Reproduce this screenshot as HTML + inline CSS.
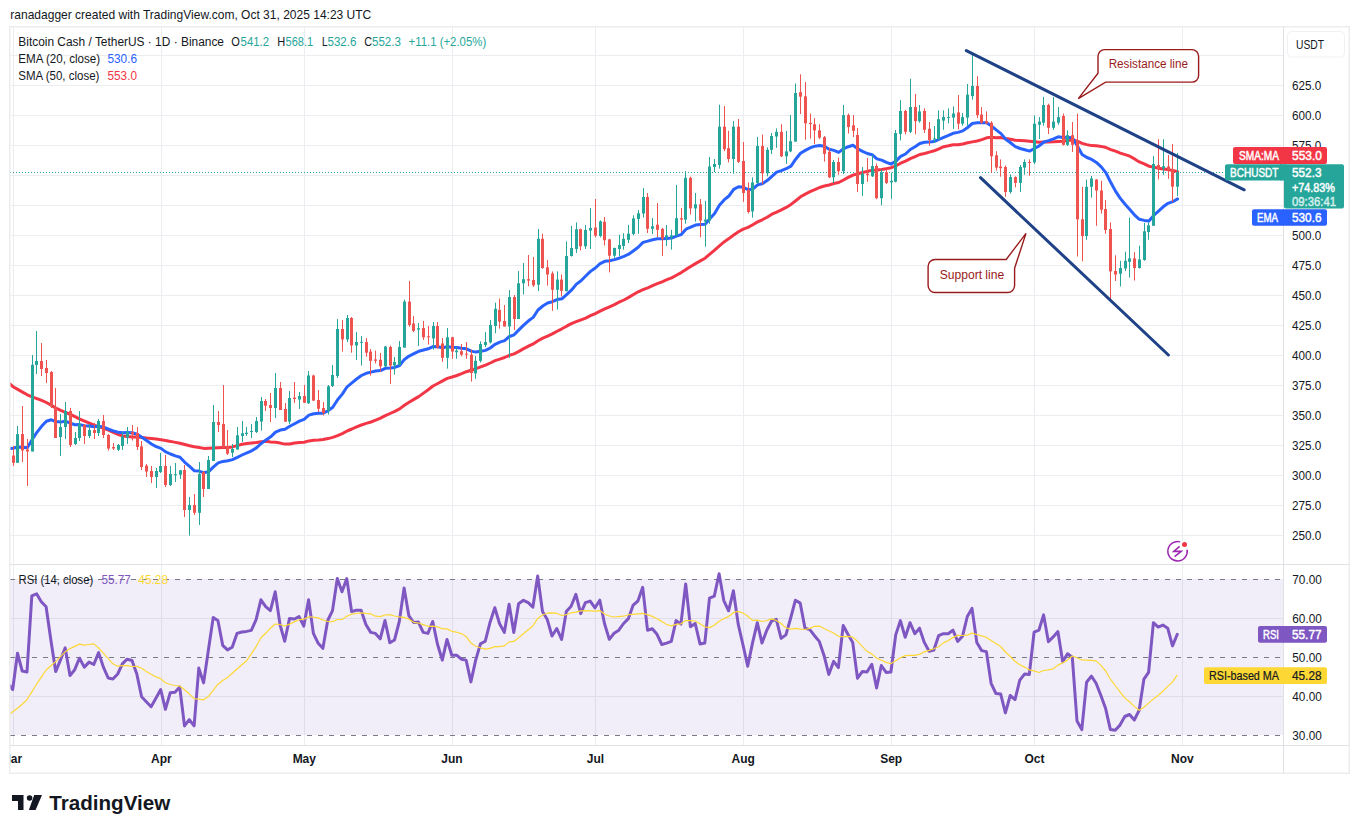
<!DOCTYPE html>
<html><head><meta charset="utf-8"><style>
html,body{margin:0;padding:0;background:#fff;width:1359px;height:833px;overflow:hidden}
svg{position:absolute;left:0;top:0}
text{font-family:"Liberation Sans",sans-serif}
</style></head><body>
<svg width="1359" height="833" viewBox="0 0 1359 833">
<line x1="10" y1="55.5" x2="1283" y2="55.5" stroke="#ebedf0" stroke-width="1"/>
<line x1="10" y1="85.5" x2="1283" y2="85.5" stroke="#ebedf0" stroke-width="1"/>
<line x1="10" y1="115.5" x2="1283" y2="115.5" stroke="#ebedf0" stroke-width="1"/>
<line x1="10" y1="145.5" x2="1283" y2="145.5" stroke="#ebedf0" stroke-width="1"/>
<line x1="10" y1="175.5" x2="1283" y2="175.5" stroke="#ebedf0" stroke-width="1"/>
<line x1="10" y1="205.5" x2="1283" y2="205.5" stroke="#ebedf0" stroke-width="1"/>
<line x1="10" y1="235.5" x2="1283" y2="235.5" stroke="#ebedf0" stroke-width="1"/>
<line x1="10" y1="265.5" x2="1283" y2="265.5" stroke="#ebedf0" stroke-width="1"/>
<line x1="10" y1="295.5" x2="1283" y2="295.5" stroke="#ebedf0" stroke-width="1"/>
<line x1="10" y1="325.5" x2="1283" y2="325.5" stroke="#ebedf0" stroke-width="1"/>
<line x1="10" y1="355.5" x2="1283" y2="355.5" stroke="#ebedf0" stroke-width="1"/>
<line x1="10" y1="385.5" x2="1283" y2="385.5" stroke="#ebedf0" stroke-width="1"/>
<line x1="10" y1="415.5" x2="1283" y2="415.5" stroke="#ebedf0" stroke-width="1"/>
<line x1="10" y1="445.5" x2="1283" y2="445.5" stroke="#ebedf0" stroke-width="1"/>
<line x1="10" y1="475.5" x2="1283" y2="475.5" stroke="#ebedf0" stroke-width="1"/>
<line x1="10" y1="505.5" x2="1283" y2="505.5" stroke="#ebedf0" stroke-width="1"/>
<line x1="10" y1="535.5" x2="1283" y2="535.5" stroke="#ebedf0" stroke-width="1"/>
<line x1="13.5" y1="27" x2="13.5" y2="745" stroke="#ebedf0" stroke-width="1"/>
<line x1="161.5" y1="27" x2="161.5" y2="745" stroke="#ebedf0" stroke-width="1"/>
<line x1="304.5" y1="27" x2="304.5" y2="745" stroke="#ebedf0" stroke-width="1"/>
<line x1="452.5" y1="27" x2="452.5" y2="745" stroke="#ebedf0" stroke-width="1"/>
<line x1="595.5" y1="27" x2="595.5" y2="745" stroke="#ebedf0" stroke-width="1"/>
<line x1="743.5" y1="27" x2="743.5" y2="745" stroke="#ebedf0" stroke-width="1"/>
<line x1="891.5" y1="27" x2="891.5" y2="745" stroke="#ebedf0" stroke-width="1"/>
<line x1="1034.5" y1="27" x2="1034.5" y2="745" stroke="#ebedf0" stroke-width="1"/>
<line x1="1182.5" y1="27" x2="1182.5" y2="745" stroke="#ebedf0" stroke-width="1"/>
<line x1="10" y1="618.5" x2="1283" y2="618.5" stroke="#ebedf0" stroke-width="1"/>
<line x1="10" y1="696.5" x2="1283" y2="696.5" stroke="#ebedf0" stroke-width="1"/>
<rect x="10" y="579" width="1273" height="156" fill="#7e57c2" fill-opacity="0.1"/>
<line x1="10" y1="579.5" x2="1283" y2="579.5" stroke="#787b86" stroke-width="1" stroke-dasharray="5,6"/>
<line x1="10" y1="657.5" x2="1283" y2="657.5" stroke="#787b86" stroke-width="1" stroke-dasharray="5,6"/>
<line x1="10" y1="735.5" x2="1283" y2="735.5" stroke="#787b86" stroke-width="1" stroke-dasharray="5,6"/>
<line x1="10" y1="172.5" x2="1283" y2="172.5" stroke="#26a69a" stroke-width="1" stroke-dasharray="1,2"/>
<clipPath id="mclip"><rect x="10" y="27" width="1273" height="537"/></clipPath>
<clipPath id="rclip"><rect x="10" y="565" width="1273" height="180"/></clipPath>
<g clip-path="url(#mclip)">
<polyline points="8.2,382.5 13.0,386.7 17.8,389.4 22.5,392.1 27.3,394.8 32.1,396.8 36.9,398.6 41.6,400.4 46.4,402.5 51.2,405.3 56.0,408.1 60.7,410.3 65.5,412.3 70.3,414.3 75.0,416.7 79.8,419.1 84.6,421.2 89.4,423.2 94.1,425.1 98.9,426.7 103.7,428.3 108.5,430.2 113.2,432.4 118.0,434.5 122.8,435.9 127.5,436.6 132.3,436.9 137.1,437.1 141.9,437.5 146.6,438.0 151.4,438.4 156.2,439.1 161.0,439.8 165.7,440.6 170.5,441.4 175.3,442.4 180.0,443.3 184.8,444.5 189.6,445.7 194.4,446.7 199.1,447.5 203.9,448.4 208.7,448.2 213.5,447.9 218.2,447.7 223.0,447.4 227.8,447.5 232.5,446.9 237.3,445.6 242.1,444.2 246.9,443.5 251.6,442.9 256.4,442.4 261.2,441.7 266.0,441.2 270.7,441.9 275.5,442.3 280.3,443.1 285.0,444.1 289.8,443.9 294.6,443.1 299.4,442.5 304.1,442.3 308.9,440.9 313.7,440.2 318.5,439.9 323.2,439.4 328.0,438.6 332.8,437.4 337.6,435.6 342.3,433.6 347.1,431.0 351.9,429.0 356.6,426.9 361.4,425.0 366.2,423.4 371.0,422.0 375.7,420.2 380.5,418.2 385.3,415.7 390.1,413.5 394.8,411.3 399.6,408.9 404.4,405.3 409.1,402.3 413.9,399.4 418.7,396.6 423.5,393.1 428.2,389.8 433.0,386.0 437.8,383.5 442.6,380.9 447.3,378.4 452.1,377.0 456.9,375.5 461.6,373.7 466.4,371.7 471.2,370.2 476.0,368.7 480.7,366.9 485.5,365.1 490.3,363.0 495.1,360.7 499.8,359.1 504.6,357.5 509.4,355.3 514.1,353.9 518.9,351.4 523.7,348.6 528.5,346.2 533.2,343.9 538.0,340.8 542.8,338.1 547.6,336.1 552.3,333.9 557.1,331.3 561.9,328.8 566.6,326.2 571.4,323.7 576.2,321.7 581.0,319.8 585.7,318.1 590.5,315.7 595.3,313.6 600.1,311.2 604.8,308.9 609.6,306.8 614.4,304.6 619.1,302.2 623.9,300.0 628.7,297.4 633.5,294.5 638.2,291.8 643.0,289.7 647.8,287.8 652.6,285.7 657.3,283.7 662.1,281.8 666.9,279.7 671.6,277.9 676.4,275.3 681.2,272.6 686.0,269.4 690.7,266.5 695.5,263.6 700.3,260.9 705.1,258.2 709.8,254.1 714.6,250.1 719.4,245.8 724.1,241.9 728.9,238.6 733.7,235.0 738.5,231.8 743.2,229.1 748.0,227.4 752.8,224.7 757.6,221.9 762.3,219.8 767.1,217.2 771.9,214.2 776.6,212.1 781.4,209.8 786.2,207.4 791.0,204.4 795.7,200.7 800.5,196.8 805.3,194.1 810.1,191.7 814.8,189.7 819.6,187.5 824.4,186.0 829.1,185.0 833.9,183.5 838.7,182.5 843.5,180.0 848.2,177.4 853.0,175.1 857.8,173.8 862.6,172.5 867.3,171.4 872.1,170.3 876.9,170.0 881.6,169.5 886.4,168.6 891.2,167.7 896.0,165.8 900.7,163.2 905.5,161.1 910.3,158.6 915.1,156.6 919.8,154.5 924.6,153.5 929.4,152.1 934.2,150.8 938.9,148.8 943.7,146.7 948.5,145.8 953.2,144.7 958.0,144.7 962.8,144.0 967.6,142.8 972.3,141.9 977.1,141.0 981.9,139.6 986.7,137.8 991.4,137.3 996.2,137.7 1001.0,137.6 1005.7,138.5 1010.5,139.3 1015.3,140.3 1020.1,140.5 1024.8,140.8 1029.6,141.2 1034.4,141.8 1039.2,142.3 1043.9,141.9 1048.7,142.0 1053.5,141.8 1058.2,141.4 1063.0,141.2 1067.8,140.4 1072.6,140.1 1077.3,141.0 1082.1,143.4 1086.9,144.6 1091.7,145.6 1096.4,145.7 1101.2,146.4 1106.0,147.5 1110.7,149.6 1115.5,151.2 1120.3,153.1 1125.1,154.6 1129.8,156.2 1134.6,158.9 1139.4,161.9 1144.2,163.8 1148.9,166.2 1153.7,167.1 1158.5,168.2 1163.2,168.9 1168.0,169.6 1172.8,170.5 1177.6,171.6" fill="none" stroke="#f23645" stroke-width="3" stroke-linejoin="round" stroke-linecap="round"/>
<polyline points="8.2,448.5 13.0,448.3 17.8,447.0 22.5,447.3 27.3,447.7 32.1,439.8 36.9,432.3 41.6,426.3 46.4,421.2 51.2,419.8 56.0,421.5 60.7,422.1 65.5,421.0 70.3,423.3 75.0,424.7 79.8,424.6 84.6,425.7 89.4,426.1 94.1,426.8 98.9,426.2 103.7,427.1 108.5,429.1 113.2,430.9 118.0,432.3 122.8,432.7 127.5,432.6 132.3,432.8 137.1,434.2 141.9,437.3 146.6,440.6 151.4,444.0 156.2,446.6 161.0,448.4 165.7,451.9 170.5,454.0 175.3,455.9 180.0,457.3 184.8,462.3 189.6,466.4 194.4,470.8 199.1,471.1 203.9,472.8 208.7,471.6 213.5,466.9 218.2,462.9 223.0,461.4 227.8,460.7 232.5,459.6 237.3,457.3 242.1,455.0 246.9,452.9 251.6,450.8 256.4,447.9 261.2,443.5 266.0,439.9 270.7,436.8 275.5,432.2 280.3,430.1 285.0,429.3 289.8,426.3 294.6,423.7 299.4,421.1 304.1,419.3 308.9,415.1 313.7,413.7 318.5,413.3 323.2,413.3 328.0,410.7 332.8,407.3 337.6,399.8 342.3,394.1 347.1,386.8 351.9,382.9 356.6,379.0 361.4,375.5 366.2,373.3 371.0,372.1 375.7,371.0 380.5,370.6 385.3,368.3 390.1,368.0 394.8,367.4 399.6,365.5 404.4,359.4 409.1,356.1 413.9,353.7 418.7,351.3 423.5,350.0 428.2,348.8 433.0,346.6 437.8,346.7 442.6,347.7 447.3,346.7 452.1,347.2 456.9,347.5 461.6,348.2 466.4,348.8 471.2,351.1 476.0,352.1 480.7,351.3 485.5,350.4 490.3,348.0 495.1,344.3 499.8,342.1 504.6,340.6 509.4,336.5 514.1,334.8 518.9,329.9 523.7,325.1 528.5,320.8 533.2,317.4 538.0,310.0 542.8,306.0 547.6,303.0 552.3,301.7 557.1,299.6 561.9,298.8 566.6,294.7 571.4,290.2 576.2,284.4 581.0,280.8 585.7,276.0 590.5,271.4 595.3,268.0 600.1,263.6 604.8,261.3 609.6,260.8 614.4,259.6 619.1,258.2 623.9,256.3 628.7,254.2 633.5,250.8 638.2,247.2 643.0,242.4 647.8,241.1 652.6,239.7 657.3,238.8 662.1,238.8 666.9,238.4 671.6,238.1 676.4,236.2 681.2,234.6 686.0,229.2 690.7,227.2 695.5,225.1 700.3,224.6 705.1,224.2 709.8,218.7 714.6,213.5 719.4,205.2 724.1,199.9 728.9,196.0 733.7,189.4 738.5,186.7 743.2,187.3 748.0,189.7 752.8,189.0 757.6,184.9 762.3,183.8 767.1,180.6 771.9,176.3 776.6,172.1 781.4,170.6 786.2,168.7 791.0,166.1 795.7,159.2 800.5,153.2 805.3,150.4 810.1,147.9 814.8,146.2 819.6,145.4 824.4,146.2 829.1,149.2 833.9,150.4 838.7,152.4 843.5,148.8 848.2,146.7 853.0,145.2 857.8,148.9 862.6,151.3 867.3,153.5 872.1,154.7 876.9,158.9 881.6,160.1 886.4,162.3 891.2,164.1 896.0,161.1 900.7,156.3 905.5,154.0 910.3,149.5 915.1,146.8 919.8,143.5 924.6,142.2 929.4,141.9 934.2,141.6 938.9,139.5 943.7,137.3 948.5,135.4 953.2,133.3 958.0,132.4 962.8,130.9 967.6,127.5 972.3,123.5 977.1,122.7 981.9,122.7 986.7,122.8 991.4,126.0 996.2,129.9 1001.0,133.6 1005.7,139.2 1010.5,142.8 1015.3,146.6 1020.1,148.5 1024.8,149.8 1029.6,151.1 1034.4,148.5 1039.2,145.9 1043.9,142.0 1048.7,140.6 1053.5,138.8 1058.2,136.8 1063.0,137.5 1067.8,137.3 1072.6,138.0 1077.3,145.8 1082.1,154.4 1086.9,157.5 1091.7,159.4 1096.4,162.4 1101.2,166.9 1106.0,172.9 1110.7,182.3 1115.5,191.1 1120.3,198.4 1125.1,204.3 1129.8,209.5 1134.6,215.1 1139.4,219.3 1144.2,220.4 1148.9,220.9 1153.7,215.5 1158.5,211.1 1163.2,206.8 1168.0,203.3 1172.8,201.7 1177.6,198.9" fill="none" stroke="#2962ff" stroke-width="3" stroke-linejoin="round" stroke-linecap="round"/>
<rect x="13" y="446.0" width="1" height="20.0" fill="#ef5350"/>
<rect x="12" y="455.6" width="3" height="7.2" fill="#ef5350"/>
<rect x="17" y="426.0" width="1" height="37.0" fill="#26a69a"/>
<rect x="16" y="434.2" width="3" height="28.6" fill="#26a69a"/>
<rect x="22" y="406.0" width="1" height="56.0" fill="#ef5350"/>
<rect x="21" y="434.0" width="3" height="16.5" fill="#ef5350"/>
<rect x="27" y="439.0" width="1" height="47.0" fill="#ef5350"/>
<rect x="26" y="449.5" width="3" height="2.0" fill="#ef5350"/>
<rect x="32" y="355.0" width="1" height="96.5" fill="#26a69a"/>
<rect x="31" y="364.8" width="3" height="86.7" fill="#26a69a"/>
<rect x="36" y="331.0" width="1" height="43.0" fill="#26a69a"/>
<rect x="35" y="361.0" width="3" height="4.0" fill="#26a69a"/>
<rect x="41" y="343.0" width="1" height="33.0" fill="#ef5350"/>
<rect x="40" y="361.0" width="3" height="8.0" fill="#ef5350"/>
<rect x="46" y="360.0" width="1" height="23.0" fill="#ef5350"/>
<rect x="45" y="368.0" width="3" height="5.0" fill="#ef5350"/>
<rect x="51" y="371.0" width="1" height="37.0" fill="#ef5350"/>
<rect x="50" y="372.0" width="3" height="34.6" fill="#ef5350"/>
<rect x="55" y="388.0" width="1" height="50.0" fill="#ef5350"/>
<rect x="54" y="407.0" width="3" height="31.0" fill="#ef5350"/>
<rect x="60" y="414.0" width="1" height="42.0" fill="#26a69a"/>
<rect x="59" y="427.0" width="3" height="10.0" fill="#26a69a"/>
<rect x="65" y="402.0" width="1" height="37.0" fill="#26a69a"/>
<rect x="64" y="411.0" width="3" height="16.0" fill="#26a69a"/>
<rect x="70" y="408.0" width="1" height="39.0" fill="#ef5350"/>
<rect x="69" y="411.0" width="3" height="34.0" fill="#ef5350"/>
<rect x="75" y="432.0" width="1" height="13.0" fill="#26a69a"/>
<rect x="74" y="438.0" width="3" height="6.0" fill="#26a69a"/>
<rect x="79" y="411.0" width="1" height="30.0" fill="#26a69a"/>
<rect x="78" y="424.0" width="3" height="14.0" fill="#26a69a"/>
<rect x="84" y="424.0" width="1" height="20.0" fill="#ef5350"/>
<rect x="83" y="425.0" width="3" height="11.0" fill="#ef5350"/>
<rect x="89" y="424.0" width="1" height="14.0" fill="#26a69a"/>
<rect x="88" y="430.0" width="3" height="6.0" fill="#26a69a"/>
<rect x="94" y="423.0" width="1" height="16.0" fill="#ef5350"/>
<rect x="93" y="430.0" width="3" height="3.0" fill="#ef5350"/>
<rect x="98" y="419.0" width="1" height="17.0" fill="#26a69a"/>
<rect x="97" y="421.0" width="3" height="12.0" fill="#26a69a"/>
<rect x="103" y="415.0" width="1" height="23.0" fill="#ef5350"/>
<rect x="102" y="421.0" width="3" height="14.0" fill="#ef5350"/>
<rect x="108" y="434.0" width="1" height="16.5" fill="#ef5350"/>
<rect x="107" y="435.0" width="3" height="13.5" fill="#ef5350"/>
<rect x="113" y="443.0" width="1" height="7.0" fill="#ef5350"/>
<rect x="112" y="447.0" width="3" height="1.5" fill="#ef5350"/>
<rect x="118" y="444.0" width="1" height="7.0" fill="#26a69a"/>
<rect x="117" y="445.0" width="3" height="4.8" fill="#26a69a"/>
<rect x="122" y="432.0" width="1" height="18.0" fill="#26a69a"/>
<rect x="121" y="436.5" width="3" height="9.5" fill="#26a69a"/>
<rect x="127" y="427.0" width="1" height="17.0" fill="#26a69a"/>
<rect x="126" y="432.0" width="3" height="5.5" fill="#26a69a"/>
<rect x="132" y="425.0" width="1" height="15.5" fill="#ef5350"/>
<rect x="131" y="432.0" width="3" height="2.5" fill="#ef5350"/>
<rect x="137" y="427.0" width="1" height="23.0" fill="#ef5350"/>
<rect x="136" y="433.0" width="3" height="14.0" fill="#ef5350"/>
<rect x="141" y="441.0" width="1" height="29.0" fill="#ef5350"/>
<rect x="140" y="446.4" width="3" height="20.6" fill="#ef5350"/>
<rect x="146" y="464.0" width="1" height="13.0" fill="#ef5350"/>
<rect x="145" y="465.6" width="3" height="6.0" fill="#ef5350"/>
<rect x="151" y="466.0" width="1" height="17.0" fill="#ef5350"/>
<rect x="150" y="471.0" width="3" height="6.0" fill="#ef5350"/>
<rect x="156" y="468.0" width="1" height="20.0" fill="#26a69a"/>
<rect x="155" y="471.0" width="3" height="6.0" fill="#26a69a"/>
<rect x="160" y="453.0" width="1" height="20.0" fill="#26a69a"/>
<rect x="159" y="466.0" width="3" height="6.0" fill="#26a69a"/>
<rect x="165" y="455.0" width="1" height="32.0" fill="#ef5350"/>
<rect x="164" y="466.0" width="3" height="19.0" fill="#ef5350"/>
<rect x="170" y="466.0" width="1" height="20.0" fill="#26a69a"/>
<rect x="169" y="474.0" width="3" height="11.0" fill="#26a69a"/>
<rect x="175" y="463.0" width="1" height="19.0" fill="#26a69a"/>
<rect x="174" y="474.2" width="3" height="1.0" fill="#26a69a"/>
<rect x="180" y="470.0" width="1" height="9.0" fill="#26a69a"/>
<rect x="179" y="470.2" width="3" height="4.5" fill="#26a69a"/>
<rect x="184" y="465.0" width="1" height="52.0" fill="#ef5350"/>
<rect x="183" y="470.0" width="3" height="40.0" fill="#ef5350"/>
<rect x="189" y="497.0" width="1" height="38.6" fill="#26a69a"/>
<rect x="188" y="505.0" width="3" height="5.0" fill="#26a69a"/>
<rect x="194" y="494.0" width="1" height="21.0" fill="#ef5350"/>
<rect x="193" y="505.0" width="3" height="7.8" fill="#ef5350"/>
<rect x="199" y="462.0" width="1" height="63.0" fill="#26a69a"/>
<rect x="198" y="474.0" width="3" height="38.8" fill="#26a69a"/>
<rect x="203" y="471.0" width="1" height="26.0" fill="#ef5350"/>
<rect x="202" y="472.0" width="3" height="17.0" fill="#ef5350"/>
<rect x="208" y="456.0" width="1" height="33.0" fill="#26a69a"/>
<rect x="207" y="460.0" width="3" height="29.0" fill="#26a69a"/>
<rect x="213" y="405.0" width="1" height="56.0" fill="#26a69a"/>
<rect x="212" y="422.0" width="3" height="39.0" fill="#26a69a"/>
<rect x="218" y="411.0" width="1" height="21.0" fill="#ef5350"/>
<rect x="217" y="422.0" width="3" height="3.0" fill="#ef5350"/>
<rect x="223" y="385.0" width="1" height="63.0" fill="#ef5350"/>
<rect x="222" y="424.0" width="3" height="23.6" fill="#ef5350"/>
<rect x="227" y="430.0" width="1" height="25.0" fill="#ef5350"/>
<rect x="226" y="446.0" width="3" height="7.7" fill="#ef5350"/>
<rect x="232" y="444.0" width="1" height="13.0" fill="#26a69a"/>
<rect x="231" y="449.0" width="3" height="3.7" fill="#26a69a"/>
<rect x="237" y="427.0" width="1" height="22.6" fill="#26a69a"/>
<rect x="236" y="435.3" width="3" height="14.3" fill="#26a69a"/>
<rect x="242" y="421.0" width="1" height="21.0" fill="#26a69a"/>
<rect x="241" y="433.3" width="3" height="2.7" fill="#26a69a"/>
<rect x="246" y="427.0" width="1" height="9.0" fill="#26a69a"/>
<rect x="245" y="432.7" width="3" height="1.3" fill="#26a69a"/>
<rect x="251" y="424.0" width="1" height="14.0" fill="#26a69a"/>
<rect x="250" y="431.0" width="3" height="1.0" fill="#26a69a"/>
<rect x="256" y="417.0" width="1" height="16.0" fill="#26a69a"/>
<rect x="255" y="421.0" width="3" height="11.0" fill="#26a69a"/>
<rect x="261" y="397.0" width="1" height="33.6" fill="#26a69a"/>
<rect x="260" y="401.0" width="3" height="20.6" fill="#26a69a"/>
<rect x="265" y="399.0" width="1" height="12.0" fill="#ef5350"/>
<rect x="264" y="401.0" width="3" height="4.7" fill="#ef5350"/>
<rect x="270" y="393.0" width="1" height="29.0" fill="#ef5350"/>
<rect x="269" y="405.0" width="3" height="3.0" fill="#ef5350"/>
<rect x="275" y="373.0" width="1" height="45.0" fill="#26a69a"/>
<rect x="274" y="388.0" width="3" height="20.0" fill="#26a69a"/>
<rect x="280" y="382.0" width="1" height="28.0" fill="#ef5350"/>
<rect x="279" y="388.0" width="3" height="22.0" fill="#ef5350"/>
<rect x="285" y="403.0" width="1" height="19.0" fill="#ef5350"/>
<rect x="284" y="409.0" width="3" height="12.6" fill="#ef5350"/>
<rect x="289" y="391.0" width="1" height="33.0" fill="#26a69a"/>
<rect x="288" y="398.0" width="3" height="23.6" fill="#26a69a"/>
<rect x="294" y="382.0" width="1" height="21.0" fill="#ef5350"/>
<rect x="293" y="397.6" width="3" height="1.4" fill="#ef5350"/>
<rect x="299" y="392.0" width="1" height="17.0" fill="#26a69a"/>
<rect x="298" y="396.0" width="3" height="3.6" fill="#26a69a"/>
<rect x="304" y="385.0" width="1" height="18.0" fill="#ef5350"/>
<rect x="303" y="396.0" width="3" height="6.7" fill="#ef5350"/>
<rect x="308" y="371.0" width="1" height="33.0" fill="#26a69a"/>
<rect x="307" y="375.5" width="3" height="27.8" fill="#26a69a"/>
<rect x="313" y="374.7" width="1" height="26.3" fill="#ef5350"/>
<rect x="312" y="375.5" width="3" height="25.1" fill="#ef5350"/>
<rect x="318" y="390.0" width="1" height="22.0" fill="#ef5350"/>
<rect x="317" y="400.0" width="3" height="8.8" fill="#ef5350"/>
<rect x="323" y="402.0" width="1" height="13.5" fill="#ef5350"/>
<rect x="322" y="408.0" width="3" height="5.0" fill="#ef5350"/>
<rect x="328" y="385.0" width="1" height="29.5" fill="#26a69a"/>
<rect x="327" y="386.3" width="3" height="24.5" fill="#26a69a"/>
<rect x="332" y="365.0" width="1" height="22.0" fill="#26a69a"/>
<rect x="331" y="375.0" width="3" height="11.0" fill="#26a69a"/>
<rect x="337" y="319.0" width="1" height="59.0" fill="#26a69a"/>
<rect x="336" y="329.0" width="3" height="47.0" fill="#26a69a"/>
<rect x="342" y="320.0" width="1" height="31.6" fill="#ef5350"/>
<rect x="341" y="329.0" width="3" height="10.4" fill="#ef5350"/>
<rect x="347" y="315.0" width="1" height="27.0" fill="#26a69a"/>
<rect x="346" y="318.0" width="3" height="21.4" fill="#26a69a"/>
<rect x="351" y="317.0" width="1" height="35.7" fill="#ef5350"/>
<rect x="350" y="318.0" width="3" height="27.5" fill="#ef5350"/>
<rect x="356" y="332.0" width="1" height="28.0" fill="#26a69a"/>
<rect x="355" y="342.0" width="3" height="3.5" fill="#26a69a"/>
<rect x="361" y="336.0" width="1" height="29.5" fill="#26a69a"/>
<rect x="360" y="341.8" width="3" height="1.0" fill="#26a69a"/>
<rect x="366" y="338.0" width="1" height="18.7" fill="#ef5350"/>
<rect x="365" y="342.0" width="3" height="10.7" fill="#ef5350"/>
<rect x="370" y="349.0" width="1" height="26.7" fill="#ef5350"/>
<rect x="369" y="351.6" width="3" height="9.2" fill="#ef5350"/>
<rect x="375" y="350.6" width="1" height="12.9" fill="#ef5350"/>
<rect x="374" y="359.4" width="3" height="1.4" fill="#ef5350"/>
<rect x="380" y="353.0" width="1" height="18.6" fill="#ef5350"/>
<rect x="379" y="359.8" width="3" height="6.5" fill="#ef5350"/>
<rect x="385" y="346.0" width="1" height="21.0" fill="#26a69a"/>
<rect x="384" y="346.5" width="3" height="19.8" fill="#26a69a"/>
<rect x="390" y="345.5" width="1" height="38.5" fill="#ef5350"/>
<rect x="389" y="347.0" width="3" height="18.5" fill="#ef5350"/>
<rect x="394" y="357.0" width="1" height="17.5" fill="#26a69a"/>
<rect x="393" y="362.0" width="3" height="3.5" fill="#26a69a"/>
<rect x="399" y="341.0" width="1" height="24.5" fill="#26a69a"/>
<rect x="398" y="347.0" width="3" height="18.0" fill="#26a69a"/>
<rect x="404" y="299.6" width="1" height="48.0" fill="#26a69a"/>
<rect x="403" y="301.6" width="3" height="46.0" fill="#26a69a"/>
<rect x="409" y="281.0" width="1" height="45.7" fill="#ef5350"/>
<rect x="408" y="301.6" width="3" height="23.4" fill="#ef5350"/>
<rect x="413" y="316.0" width="1" height="16.0" fill="#ef5350"/>
<rect x="412" y="323.5" width="3" height="7.3" fill="#ef5350"/>
<rect x="418" y="323.0" width="1" height="23.0" fill="#26a69a"/>
<rect x="417" y="328.2" width="3" height="1.4" fill="#26a69a"/>
<rect x="423" y="321.0" width="1" height="19.0" fill="#ef5350"/>
<rect x="422" y="328.0" width="3" height="9.3" fill="#ef5350"/>
<rect x="428" y="326.0" width="1" height="18.5" fill="#ef5350"/>
<rect x="427" y="336.3" width="3" height="1.0" fill="#ef5350"/>
<rect x="433" y="322.0" width="1" height="27.6" fill="#26a69a"/>
<rect x="432" y="326.0" width="3" height="12.4" fill="#26a69a"/>
<rect x="437" y="322.0" width="1" height="26.6" fill="#ef5350"/>
<rect x="436" y="326.0" width="3" height="21.6" fill="#ef5350"/>
<rect x="442" y="338.0" width="1" height="23.8" fill="#ef5350"/>
<rect x="441" y="343.5" width="3" height="14.3" fill="#ef5350"/>
<rect x="447" y="328.0" width="1" height="40.6" fill="#26a69a"/>
<rect x="446" y="337.3" width="3" height="20.5" fill="#26a69a"/>
<rect x="452" y="336.7" width="1" height="22.1" fill="#ef5350"/>
<rect x="451" y="337.3" width="3" height="14.3" fill="#ef5350"/>
<rect x="456" y="347.0" width="1" height="11.8" fill="#26a69a"/>
<rect x="455" y="350.6" width="3" height="1.6" fill="#26a69a"/>
<rect x="461" y="344.0" width="1" height="12.3" fill="#ef5350"/>
<rect x="460" y="351.2" width="3" height="3.5" fill="#ef5350"/>
<rect x="466" y="342.0" width="1" height="16.8" fill="#ef5350"/>
<rect x="465" y="353.7" width="3" height="1.0" fill="#ef5350"/>
<rect x="471" y="349.6" width="1" height="32.0" fill="#ef5350"/>
<rect x="470" y="354.7" width="3" height="18.3" fill="#ef5350"/>
<rect x="475" y="356.0" width="1" height="22.8" fill="#26a69a"/>
<rect x="474" y="360.8" width="3" height="12.7" fill="#26a69a"/>
<rect x="480" y="341.4" width="1" height="21.0" fill="#26a69a"/>
<rect x="479" y="344.0" width="3" height="16.8" fill="#26a69a"/>
<rect x="485" y="332.0" width="1" height="15.0" fill="#26a69a"/>
<rect x="484" y="342.0" width="3" height="3.0" fill="#26a69a"/>
<rect x="490" y="320.0" width="1" height="23.5" fill="#26a69a"/>
<rect x="489" y="325.0" width="3" height="17.4" fill="#26a69a"/>
<rect x="495" y="302.7" width="1" height="30.6" fill="#26a69a"/>
<rect x="494" y="308.8" width="3" height="17.2" fill="#26a69a"/>
<rect x="499" y="298.6" width="1" height="30.0" fill="#ef5350"/>
<rect x="498" y="309.8" width="3" height="11.8" fill="#ef5350"/>
<rect x="504" y="305.0" width="1" height="21.5" fill="#ef5350"/>
<rect x="503" y="321.0" width="3" height="5.5" fill="#ef5350"/>
<rect x="509" y="290.0" width="1" height="67.8" fill="#26a69a"/>
<rect x="508" y="297.0" width="3" height="29.5" fill="#26a69a"/>
<rect x="514" y="295.0" width="1" height="35.0" fill="#ef5350"/>
<rect x="513" y="297.0" width="3" height="22.0" fill="#ef5350"/>
<rect x="518" y="271.0" width="1" height="48.0" fill="#26a69a"/>
<rect x="517" y="283.3" width="3" height="35.7" fill="#26a69a"/>
<rect x="523" y="263.0" width="1" height="31.5" fill="#26a69a"/>
<rect x="522" y="279.2" width="3" height="4.1" fill="#26a69a"/>
<rect x="528" y="255.0" width="1" height="31.3" fill="#ef5350"/>
<rect x="527" y="279.2" width="3" height="1.4" fill="#ef5350"/>
<rect x="533" y="257.0" width="1" height="30.0" fill="#ef5350"/>
<rect x="532" y="280.0" width="3" height="5.3" fill="#ef5350"/>
<rect x="538" y="229.0" width="1" height="62.0" fill="#26a69a"/>
<rect x="537" y="238.8" width="3" height="45.9" fill="#26a69a"/>
<rect x="542" y="233.7" width="1" height="35.1" fill="#ef5350"/>
<rect x="541" y="238.8" width="3" height="29.2" fill="#ef5350"/>
<rect x="547" y="260.0" width="1" height="25.7" fill="#ef5350"/>
<rect x="546" y="267.3" width="3" height="7.2" fill="#ef5350"/>
<rect x="552" y="271.4" width="1" height="39.4" fill="#ef5350"/>
<rect x="551" y="273.5" width="3" height="16.3" fill="#ef5350"/>
<rect x="557" y="271.4" width="1" height="38.2" fill="#26a69a"/>
<rect x="556" y="279.6" width="3" height="10.2" fill="#26a69a"/>
<rect x="561" y="274.5" width="1" height="22.0" fill="#ef5350"/>
<rect x="560" y="279.6" width="3" height="11.2" fill="#ef5350"/>
<rect x="566" y="241.4" width="1" height="49.8" fill="#26a69a"/>
<rect x="565" y="256.0" width="3" height="35.2" fill="#26a69a"/>
<rect x="571" y="226.0" width="1" height="30.5" fill="#26a69a"/>
<rect x="570" y="248.0" width="3" height="8.0" fill="#26a69a"/>
<rect x="576" y="222.4" width="1" height="30.6" fill="#26a69a"/>
<rect x="575" y="229.2" width="3" height="19.8" fill="#26a69a"/>
<rect x="580" y="228.6" width="1" height="21.8" fill="#ef5350"/>
<rect x="579" y="229.2" width="3" height="17.1" fill="#ef5350"/>
<rect x="585" y="225.0" width="1" height="24.0" fill="#26a69a"/>
<rect x="584" y="230.0" width="3" height="16.3" fill="#26a69a"/>
<rect x="590" y="208.0" width="1" height="41.0" fill="#26a69a"/>
<rect x="589" y="228.0" width="3" height="2.6" fill="#26a69a"/>
<rect x="595" y="199.0" width="1" height="38.3" fill="#ef5350"/>
<rect x="594" y="227.6" width="3" height="8.1" fill="#ef5350"/>
<rect x="600" y="220.4" width="1" height="16.9" fill="#26a69a"/>
<rect x="599" y="221.4" width="3" height="14.6" fill="#26a69a"/>
<rect x="604" y="217.0" width="1" height="28.5" fill="#ef5350"/>
<rect x="603" y="221.8" width="3" height="18.4" fill="#ef5350"/>
<rect x="609" y="238.8" width="1" height="33.6" fill="#ef5350"/>
<rect x="608" y="239.4" width="3" height="16.3" fill="#ef5350"/>
<rect x="614" y="247.6" width="1" height="10.2" fill="#26a69a"/>
<rect x="613" y="248.0" width="3" height="7.7" fill="#26a69a"/>
<rect x="619" y="234.7" width="1" height="21.3" fill="#26a69a"/>
<rect x="618" y="245.0" width="3" height="4.0" fill="#26a69a"/>
<rect x="623" y="233.3" width="1" height="16.3" fill="#26a69a"/>
<rect x="622" y="238.8" width="3" height="7.2" fill="#26a69a"/>
<rect x="628" y="225.0" width="1" height="18.0" fill="#26a69a"/>
<rect x="627" y="233.7" width="3" height="6.1" fill="#26a69a"/>
<rect x="633" y="215.3" width="1" height="20.0" fill="#26a69a"/>
<rect x="632" y="218.4" width="3" height="15.6" fill="#26a69a"/>
<rect x="638" y="210.0" width="1" height="23.7" fill="#26a69a"/>
<rect x="637" y="213.3" width="3" height="5.7" fill="#26a69a"/>
<rect x="643" y="188.0" width="1" height="29.6" fill="#26a69a"/>
<rect x="642" y="197.0" width="3" height="16.5" fill="#26a69a"/>
<rect x="647" y="193.0" width="1" height="40.0" fill="#ef5350"/>
<rect x="646" y="197.0" width="3" height="31.8" fill="#ef5350"/>
<rect x="652" y="218.0" width="1" height="16.0" fill="#26a69a"/>
<rect x="651" y="226.3" width="3" height="2.5" fill="#26a69a"/>
<rect x="657" y="203.0" width="1" height="34.0" fill="#ef5350"/>
<rect x="656" y="224.7" width="3" height="5.1" fill="#ef5350"/>
<rect x="662" y="227.8" width="1" height="28.2" fill="#ef5350"/>
<rect x="661" y="228.8" width="3" height="9.8" fill="#ef5350"/>
<rect x="666" y="225.0" width="1" height="21.0" fill="#26a69a"/>
<rect x="665" y="235.3" width="3" height="2.0" fill="#26a69a"/>
<rect x="671" y="229.8" width="1" height="19.8" fill="#26a69a"/>
<rect x="670" y="235.3" width="3" height="2.0" fill="#26a69a"/>
<rect x="676" y="185.0" width="1" height="51.0" fill="#26a69a"/>
<rect x="675" y="218.2" width="3" height="17.1" fill="#26a69a"/>
<rect x="681" y="208.0" width="1" height="23.8" fill="#ef5350"/>
<rect x="680" y="218.2" width="3" height="1.4" fill="#ef5350"/>
<rect x="685" y="171.2" width="1" height="52.5" fill="#26a69a"/>
<rect x="684" y="177.8" width="3" height="41.8" fill="#26a69a"/>
<rect x="690" y="176.7" width="1" height="37.8" fill="#ef5350"/>
<rect x="689" y="177.8" width="3" height="30.6" fill="#ef5350"/>
<rect x="695" y="193.0" width="1" height="28.6" fill="#26a69a"/>
<rect x="694" y="204.3" width="3" height="4.1" fill="#26a69a"/>
<rect x="700" y="199.0" width="1" height="38.3" fill="#ef5350"/>
<rect x="699" y="204.3" width="3" height="16.3" fill="#ef5350"/>
<rect x="705" y="201.0" width="1" height="45.7" fill="#26a69a"/>
<rect x="704" y="219.6" width="3" height="2.0" fill="#26a69a"/>
<rect x="709" y="157.0" width="1" height="66.7" fill="#26a69a"/>
<rect x="708" y="166.5" width="3" height="54.1" fill="#26a69a"/>
<rect x="714" y="159.0" width="1" height="13.0" fill="#26a69a"/>
<rect x="713" y="164.0" width="3" height="3.0" fill="#26a69a"/>
<rect x="719" y="104.7" width="1" height="63.9" fill="#26a69a"/>
<rect x="718" y="126.7" width="3" height="38.3" fill="#26a69a"/>
<rect x="724" y="106.0" width="1" height="45.2" fill="#ef5350"/>
<rect x="723" y="126.7" width="3" height="22.5" fill="#ef5350"/>
<rect x="728" y="130.8" width="1" height="31.6" fill="#ef5350"/>
<rect x="727" y="148.2" width="3" height="10.8" fill="#ef5350"/>
<rect x="733" y="121.0" width="1" height="52.7" fill="#26a69a"/>
<rect x="732" y="126.7" width="3" height="32.3" fill="#26a69a"/>
<rect x="738" y="119.0" width="1" height="44.0" fill="#ef5350"/>
<rect x="737" y="126.7" width="3" height="35.1" fill="#ef5350"/>
<rect x="743" y="142.0" width="1" height="59.8" fill="#ef5350"/>
<rect x="742" y="161.0" width="3" height="32.0" fill="#ef5350"/>
<rect x="748" y="182.4" width="1" height="31.1" fill="#ef5350"/>
<rect x="747" y="190.0" width="3" height="22.0" fill="#ef5350"/>
<rect x="752" y="177.3" width="1" height="40.3" fill="#26a69a"/>
<rect x="751" y="182.4" width="3" height="29.0" fill="#26a69a"/>
<rect x="757" y="137.0" width="1" height="47.0" fill="#26a69a"/>
<rect x="756" y="146.0" width="3" height="37.0" fill="#26a69a"/>
<rect x="762" y="134.5" width="1" height="50.0" fill="#ef5350"/>
<rect x="761" y="146.0" width="3" height="27.3" fill="#ef5350"/>
<rect x="767" y="147.3" width="1" height="29.0" fill="#26a69a"/>
<rect x="766" y="149.8" width="3" height="23.5" fill="#26a69a"/>
<rect x="771" y="133.0" width="1" height="21.0" fill="#26a69a"/>
<rect x="770" y="136.0" width="3" height="13.8" fill="#26a69a"/>
<rect x="776" y="128.4" width="1" height="19.4" fill="#26a69a"/>
<rect x="775" y="131.8" width="3" height="4.7" fill="#26a69a"/>
<rect x="781" y="124.3" width="1" height="32.7" fill="#ef5350"/>
<rect x="780" y="131.8" width="3" height="24.5" fill="#ef5350"/>
<rect x="786" y="131.0" width="1" height="32.7" fill="#26a69a"/>
<rect x="785" y="151.4" width="3" height="4.9" fill="#26a69a"/>
<rect x="790" y="115.0" width="1" height="37.2" fill="#26a69a"/>
<rect x="789" y="141.2" width="3" height="10.2" fill="#26a69a"/>
<rect x="795" y="83.5" width="1" height="58.1" fill="#26a69a"/>
<rect x="794" y="93.0" width="3" height="48.6" fill="#26a69a"/>
<rect x="800" y="74.3" width="1" height="39.7" fill="#ef5350"/>
<rect x="799" y="92.2" width="3" height="4.5" fill="#ef5350"/>
<rect x="805" y="82.0" width="1" height="57.6" fill="#ef5350"/>
<rect x="804" y="96.3" width="3" height="27.0" fill="#ef5350"/>
<rect x="810" y="113.5" width="1" height="25.1" fill="#ef5350"/>
<rect x="809" y="122.9" width="3" height="1.2" fill="#ef5350"/>
<rect x="814" y="118.2" width="1" height="25.8" fill="#ef5350"/>
<rect x="813" y="124.3" width="3" height="6.1" fill="#ef5350"/>
<rect x="819" y="124.3" width="1" height="14.9" fill="#ef5350"/>
<rect x="818" y="130.4" width="3" height="7.2" fill="#ef5350"/>
<rect x="824" y="136.0" width="1" height="25.6" fill="#ef5350"/>
<rect x="823" y="137.1" width="3" height="16.8" fill="#ef5350"/>
<rect x="829" y="147.8" width="1" height="30.2" fill="#ef5350"/>
<rect x="828" y="151.8" width="3" height="25.5" fill="#ef5350"/>
<rect x="833" y="160.0" width="1" height="23.0" fill="#26a69a"/>
<rect x="832" y="162.0" width="3" height="15.3" fill="#26a69a"/>
<rect x="838" y="157.6" width="1" height="17.1" fill="#ef5350"/>
<rect x="837" y="162.0" width="3" height="9.2" fill="#ef5350"/>
<rect x="843" y="105.0" width="1" height="69.0" fill="#26a69a"/>
<rect x="842" y="115.1" width="3" height="56.1" fill="#26a69a"/>
<rect x="848" y="113.5" width="1" height="20.0" fill="#ef5350"/>
<rect x="847" y="115.1" width="3" height="11.9" fill="#ef5350"/>
<rect x="853" y="115.0" width="1" height="22.0" fill="#ef5350"/>
<rect x="852" y="125.3" width="3" height="5.5" fill="#ef5350"/>
<rect x="857" y="128.0" width="1" height="64.0" fill="#ef5350"/>
<rect x="856" y="135.0" width="3" height="49.0" fill="#ef5350"/>
<rect x="862" y="167.0" width="1" height="29.0" fill="#26a69a"/>
<rect x="861" y="173.7" width="3" height="10.3" fill="#26a69a"/>
<rect x="867" y="158.0" width="1" height="23.8" fill="#ef5350"/>
<rect x="866" y="173.7" width="3" height="1.4" fill="#ef5350"/>
<rect x="872" y="155.0" width="1" height="22.0" fill="#26a69a"/>
<rect x="871" y="166.0" width="3" height="10.3" fill="#26a69a"/>
<rect x="876" y="163.5" width="1" height="35.7" fill="#ef5350"/>
<rect x="875" y="166.0" width="3" height="32.2" fill="#ef5350"/>
<rect x="881" y="169.6" width="1" height="35.7" fill="#26a69a"/>
<rect x="880" y="172.2" width="3" height="26.0" fill="#26a69a"/>
<rect x="886" y="169.6" width="1" height="14.4" fill="#ef5350"/>
<rect x="885" y="172.2" width="3" height="10.7" fill="#ef5350"/>
<rect x="891" y="172.7" width="1" height="26.1" fill="#26a69a"/>
<rect x="890" y="180.8" width="3" height="1.6" fill="#26a69a"/>
<rect x="895" y="130.0" width="1" height="52.4" fill="#26a69a"/>
<rect x="894" y="133.0" width="3" height="48.8" fill="#26a69a"/>
<rect x="900" y="100.0" width="1" height="40.4" fill="#26a69a"/>
<rect x="899" y="111.0" width="3" height="22.9" fill="#26a69a"/>
<rect x="905" y="109.8" width="1" height="24.5" fill="#ef5350"/>
<rect x="904" y="111.0" width="3" height="20.8" fill="#ef5350"/>
<rect x="910" y="78.8" width="1" height="54.2" fill="#26a69a"/>
<rect x="909" y="107.0" width="3" height="24.8" fill="#26a69a"/>
<rect x="915" y="94.0" width="1" height="40.3" fill="#ef5350"/>
<rect x="914" y="107.0" width="3" height="14.2" fill="#ef5350"/>
<rect x="919" y="105.0" width="1" height="17.7" fill="#26a69a"/>
<rect x="918" y="111.4" width="3" height="9.8" fill="#26a69a"/>
<rect x="924" y="108.4" width="1" height="24.6" fill="#ef5350"/>
<rect x="923" y="111.0" width="3" height="18.8" fill="#ef5350"/>
<rect x="929" y="122.0" width="1" height="23.7" fill="#ef5350"/>
<rect x="928" y="128.8" width="3" height="11.2" fill="#ef5350"/>
<rect x="934" y="126.0" width="1" height="17.0" fill="#26a69a"/>
<rect x="933" y="138.4" width="3" height="1.2" fill="#26a69a"/>
<rect x="938" y="110.4" width="1" height="30.0" fill="#26a69a"/>
<rect x="937" y="119.2" width="3" height="19.8" fill="#26a69a"/>
<rect x="943" y="110.4" width="1" height="19.4" fill="#26a69a"/>
<rect x="942" y="117.0" width="3" height="3.6" fill="#26a69a"/>
<rect x="948" y="108.4" width="1" height="14.9" fill="#26a69a"/>
<rect x="947" y="117.1" width="3" height="1.0" fill="#26a69a"/>
<rect x="953" y="106.3" width="1" height="22.5" fill="#26a69a"/>
<rect x="952" y="113.5" width="3" height="4.1" fill="#26a69a"/>
<rect x="958" y="95.0" width="1" height="34.4" fill="#ef5350"/>
<rect x="957" y="112.4" width="3" height="11.3" fill="#ef5350"/>
<rect x="962" y="113.0" width="1" height="12.7" fill="#26a69a"/>
<rect x="961" y="117.1" width="3" height="6.6" fill="#26a69a"/>
<rect x="967" y="84.0" width="1" height="41.7" fill="#26a69a"/>
<rect x="966" y="94.7" width="3" height="22.9" fill="#26a69a"/>
<rect x="972" y="53.3" width="1" height="46.3" fill="#26a69a"/>
<rect x="971" y="86.0" width="3" height="10.1" fill="#26a69a"/>
<rect x="977" y="76.3" width="1" height="41.7" fill="#ef5350"/>
<rect x="976" y="86.0" width="3" height="29.1" fill="#ef5350"/>
<rect x="981" y="107.0" width="1" height="16.7" fill="#ef5350"/>
<rect x="980" y="114.5" width="3" height="8.2" fill="#ef5350"/>
<rect x="986" y="111.4" width="1" height="12.7" fill="#ef5350"/>
<rect x="985" y="121.2" width="3" height="2.1" fill="#ef5350"/>
<rect x="991" y="121.2" width="1" height="51.5" fill="#ef5350"/>
<rect x="990" y="122.7" width="3" height="33.6" fill="#ef5350"/>
<rect x="996" y="151.2" width="1" height="19.4" fill="#ef5350"/>
<rect x="995" y="155.3" width="3" height="12.3" fill="#ef5350"/>
<rect x="1000" y="159.4" width="1" height="17.3" fill="#ef5350"/>
<rect x="999" y="166.5" width="3" height="1.7" fill="#ef5350"/>
<rect x="1005" y="165.5" width="1" height="31.2" fill="#ef5350"/>
<rect x="1004" y="167.0" width="3" height="25.0" fill="#ef5350"/>
<rect x="1010" y="174.3" width="1" height="19.2" fill="#26a69a"/>
<rect x="1009" y="177.1" width="3" height="14.9" fill="#26a69a"/>
<rect x="1015" y="176.3" width="1" height="11.0" fill="#ef5350"/>
<rect x="1014" y="177.1" width="3" height="5.8" fill="#ef5350"/>
<rect x="1020" y="165.0" width="1" height="27.0" fill="#26a69a"/>
<rect x="1019" y="167.0" width="3" height="15.9" fill="#26a69a"/>
<rect x="1024" y="159.4" width="1" height="15.3" fill="#26a69a"/>
<rect x="1023" y="162.0" width="3" height="5.6" fill="#26a69a"/>
<rect x="1029" y="159.4" width="1" height="16.3" fill="#ef5350"/>
<rect x="1028" y="162.0" width="3" height="1.0" fill="#ef5350"/>
<rect x="1034" y="115.5" width="1" height="48.6" fill="#26a69a"/>
<rect x="1033" y="123.7" width="3" height="38.7" fill="#26a69a"/>
<rect x="1039" y="117.0" width="1" height="22.0" fill="#26a69a"/>
<rect x="1038" y="121.6" width="3" height="3.1" fill="#26a69a"/>
<rect x="1043" y="97.0" width="1" height="28.7" fill="#26a69a"/>
<rect x="1042" y="105.0" width="3" height="17.7" fill="#26a69a"/>
<rect x="1048" y="103.7" width="1" height="30.3" fill="#ef5350"/>
<rect x="1047" y="105.0" width="3" height="22.8" fill="#ef5350"/>
<rect x="1053" y="97.0" width="1" height="32.8" fill="#26a69a"/>
<rect x="1052" y="121.6" width="3" height="6.2" fill="#26a69a"/>
<rect x="1058" y="107.0" width="1" height="17.7" fill="#26a69a"/>
<rect x="1057" y="117.1" width="3" height="5.6" fill="#26a69a"/>
<rect x="1063" y="113.6" width="1" height="31.9" fill="#ef5350"/>
<rect x="1062" y="116.0" width="3" height="28.8" fill="#ef5350"/>
<rect x="1067" y="130.4" width="1" height="15.6" fill="#26a69a"/>
<rect x="1066" y="135.2" width="3" height="9.6" fill="#26a69a"/>
<rect x="1072" y="122.0" width="1" height="30.0" fill="#ef5350"/>
<rect x="1071" y="135.2" width="3" height="9.6" fill="#ef5350"/>
<rect x="1077" y="113.6" width="1" height="142.9" fill="#ef5350"/>
<rect x="1076" y="140.0" width="3" height="79.3" fill="#ef5350"/>
<rect x="1082" y="186.8" width="1" height="74.5" fill="#ef5350"/>
<rect x="1081" y="219.3" width="3" height="16.8" fill="#ef5350"/>
<rect x="1086" y="179.6" width="1" height="60.1" fill="#26a69a"/>
<rect x="1085" y="186.8" width="3" height="49.3" fill="#26a69a"/>
<rect x="1091" y="176.0" width="1" height="21.7" fill="#26a69a"/>
<rect x="1090" y="178.4" width="3" height="8.4" fill="#26a69a"/>
<rect x="1096" y="179.2" width="1" height="46.6" fill="#ef5350"/>
<rect x="1095" y="179.6" width="3" height="10.9" fill="#ef5350"/>
<rect x="1101" y="180.8" width="1" height="32.9" fill="#ef5350"/>
<rect x="1100" y="190.5" width="3" height="19.2" fill="#ef5350"/>
<rect x="1105" y="200.0" width="1" height="33.7" fill="#ef5350"/>
<rect x="1104" y="209.0" width="3" height="21.0" fill="#ef5350"/>
<rect x="1110" y="222.4" width="1" height="79.6" fill="#ef5350"/>
<rect x="1109" y="229.0" width="3" height="42.4" fill="#ef5350"/>
<rect x="1115" y="255.3" width="1" height="25.7" fill="#ef5350"/>
<rect x="1114" y="271.0" width="3" height="3.5" fill="#ef5350"/>
<rect x="1120" y="260.8" width="1" height="25.7" fill="#26a69a"/>
<rect x="1119" y="268.0" width="3" height="5.8" fill="#26a69a"/>
<rect x="1125" y="251.7" width="1" height="19.3" fill="#26a69a"/>
<rect x="1124" y="260.8" width="3" height="7.7" fill="#26a69a"/>
<rect x="1129" y="217.6" width="1" height="60.0" fill="#26a69a"/>
<rect x="1128" y="258.4" width="3" height="3.4" fill="#26a69a"/>
<rect x="1134" y="252.2" width="1" height="28.3" fill="#ef5350"/>
<rect x="1133" y="258.4" width="3" height="9.6" fill="#ef5350"/>
<rect x="1139" y="245.7" width="1" height="22.8" fill="#26a69a"/>
<rect x="1138" y="259.4" width="3" height="8.6" fill="#26a69a"/>
<rect x="1144" y="222.9" width="1" height="37.9" fill="#26a69a"/>
<rect x="1143" y="231.3" width="3" height="28.7" fill="#26a69a"/>
<rect x="1148" y="222.4" width="1" height="17.3" fill="#26a69a"/>
<rect x="1147" y="225.3" width="3" height="6.7" fill="#26a69a"/>
<rect x="1153" y="156.1" width="1" height="69.7" fill="#26a69a"/>
<rect x="1152" y="164.0" width="3" height="61.8" fill="#26a69a"/>
<rect x="1158" y="139.2" width="1" height="40.2" fill="#ef5350"/>
<rect x="1157" y="165.0" width="3" height="4.0" fill="#ef5350"/>
<rect x="1163" y="139.2" width="1" height="35.6" fill="#26a69a"/>
<rect x="1162" y="166.2" width="3" height="2.4" fill="#26a69a"/>
<rect x="1168" y="155.0" width="1" height="23.8" fill="#ef5350"/>
<rect x="1167" y="166.5" width="3" height="3.5" fill="#ef5350"/>
<rect x="1172" y="144.0" width="1" height="58.0" fill="#ef5350"/>
<rect x="1171" y="169.0" width="3" height="17.7" fill="#ef5350"/>
<rect x="1177" y="153.0" width="1" height="43.0" fill="#26a69a"/>
<rect x="1176" y="172.2" width="3" height="14.5" fill="#26a69a"/>
</g>
<g clip-path="url(#rclip)">
<polyline points="8.2,684.0 12.7,689.5 17.5,653.2 22.2,671.0 27.0,672.0 31.8,595.8 36.6,593.8 41.3,601.7 46.1,606.7 50.9,640.3 55.7,671.6 60.4,660.1 65.2,647.9 70.0,675.6 74.7,669.7 79.5,658.2 84.3,667.1 89.1,662.1 93.8,664.5 98.6,652.6 103.4,667.1 108.2,678.0 112.9,679.0 117.7,674.0 122.5,663.7 127.2,659.2 132.0,660.5 136.8,674.0 141.6,696.8 146.3,701.7 151.1,706.7 155.9,698.2 160.7,689.5 165.4,709.3 170.2,692.8 175.0,692.2 179.7,686.9 184.5,725.9 189.3,719.6 194.1,725.9 198.8,668.1 203.6,682.9 208.4,650.0 213.2,617.6 217.9,620.5 222.7,645.3 227.5,649.9 232.2,647.3 237.0,633.4 241.8,632.0 246.6,631.4 251.3,630.4 256.1,619.6 260.9,599.8 265.7,606.7 270.4,610.6 275.2,591.8 280.0,624.5 284.7,641.3 289.5,618.6 294.3,619.0 299.1,616.6 303.8,626.1 308.6,599.8 313.4,633.4 318.2,643.3 322.9,648.3 327.7,620.5 332.5,610.6 337.3,578.6 342.0,591.8 346.8,578.6 351.6,611.6 356.3,610.2 361.1,610.2 365.9,624.5 370.7,632.4 375.4,633.4 380.2,638.8 385.0,620.5 389.8,642.7 394.5,640.0 399.3,621.5 404.1,587.9 408.8,615.6 413.6,622.5 418.4,622.1 423.2,632.4 427.9,633.4 432.7,621.5 437.5,644.3 442.3,660.1 447.0,639.4 451.8,655.2 456.6,655.2 461.3,659.2 466.1,660.1 470.9,681.9 475.7,660.1 480.4,643.9 485.2,641.3 490.0,622.5 494.8,607.7 499.5,623.5 504.3,632.4 509.1,604.3 513.8,632.4 518.6,603.7 523.4,600.3 528.2,602.7 532.9,607.1 537.7,576.0 542.5,611.6 547.3,619.6 552.0,636.0 556.8,628.5 561.6,639.4 566.3,611.6 571.1,606.3 575.9,594.4 580.7,613.6 585.4,602.7 590.2,601.1 595.0,607.8 599.8,600.2 604.5,623.5 609.3,639.4 614.1,633.3 618.8,630.2 623.6,623.5 628.4,618.6 633.2,605.1 637.9,601.0 642.7,587.3 647.5,630.2 652.3,628.8 657.0,634.3 661.8,644.5 666.6,643.1 671.3,641.4 676.1,620.6 680.9,624.1 685.7,583.9 690.4,626.7 695.2,623.5 700.0,643.9 704.8,643.1 709.5,598.2 714.3,596.1 719.1,573.7 723.8,600.6 728.6,610.8 733.4,590.8 738.2,624.1 742.9,644.5 747.7,666.3 752.5,643.1 757.3,622.7 762.0,643.1 766.8,630.2 771.6,621.0 776.3,619.4 781.1,638.4 785.9,634.9 790.7,618.0 795.4,600.2 800.2,603.1 805.0,628.2 809.8,629.6 814.5,635.7 819.3,641.4 824.1,655.7 828.8,674.5 833.6,661.4 838.4,667.6 843.2,625.5 847.9,634.3 852.7,642.4 857.5,678.2 862.3,671.6 867.0,672.0 871.8,664.3 876.6,688.0 881.3,665.5 886.1,672.4 890.9,672.0 895.7,634.9 900.4,620.6 905.2,637.3 910.0,622.7 914.8,633.7 919.5,628.2 924.3,642.4 929.1,651.2 933.9,650.0 938.6,635.7 943.4,633.7 948.2,633.7 952.9,630.2 957.7,641.4 962.5,636.3 967.3,616.5 972.0,608.4 976.8,642.4 981.6,650.6 986.4,651.6 991.1,683.3 995.9,693.5 1000.7,694.1 1005.4,712.9 1010.2,695.5 1015.0,699.6 1019.8,680.2 1024.5,674.1 1029.3,674.5 1034.1,632.2 1038.9,630.2 1043.6,614.9 1048.4,641.8 1053.2,636.9 1057.9,631.6 1062.7,661.8 1067.5,653.7 1072.3,657.3 1077.0,721.0 1081.8,729.6 1086.6,682.2 1091.4,676.1 1096.1,683.3 1100.9,695.5 1105.7,708.8 1110.4,729.6 1115.2,730.2 1120.0,725.1 1124.8,716.5 1129.5,714.5 1134.3,720.0 1139.1,710.4 1143.9,679.2 1148.6,672.4 1153.4,622.7 1158.2,627.1 1162.9,625.1 1167.7,628.2 1172.5,645.9 1177.3,634.3" fill="none" stroke="#7e57c2" stroke-width="3" stroke-linejoin="round" stroke-linecap="round"/>
<polyline points="8.2,715.0 12.7,711.7 17.5,708.2 22.2,704.2 27.0,699.8 31.8,691.9 36.6,684.2 41.3,677.1 46.1,670.0 50.9,665.8 55.7,661.6 60.4,656.7 65.2,651.8 70.0,648.6 74.7,646.4 79.5,644.1 84.3,645.1 89.1,644.5 93.8,643.9 98.6,648.0 103.4,653.2 108.2,658.7 112.9,663.8 117.7,666.2 122.5,665.7 127.2,665.6 132.0,666.5 136.8,666.4 141.6,668.3 146.3,671.4 151.1,674.3 155.9,676.9 160.7,678.6 165.4,682.7 170.2,684.5 175.0,685.5 179.7,686.1 184.5,689.8 189.3,693.8 194.1,698.6 198.8,699.1 203.6,699.8 208.4,696.4 213.2,690.4 217.9,684.2 222.7,680.5 227.5,677.6 232.2,673.2 237.0,669.0 241.8,664.7 246.6,660.7 251.3,653.9 256.1,646.7 260.9,637.7 265.7,633.3 270.4,628.2 275.2,624.0 280.0,624.5 284.7,626.0 289.5,624.1 294.3,621.9 299.1,619.7 303.8,619.2 308.6,616.9 313.4,617.0 318.2,617.9 322.9,620.0 327.7,621.5 332.5,621.7 337.3,619.5 342.0,619.5 346.8,616.2 351.6,614.1 356.3,613.5 361.1,612.8 365.9,613.4 370.7,613.8 375.4,616.2 380.2,616.6 385.0,615.0 389.8,614.6 394.5,616.0 399.3,616.8 404.1,617.4 408.8,619.1 413.6,622.3 418.4,623.0 423.2,624.6 427.9,626.3 432.7,626.1 437.5,626.9 442.3,628.8 447.0,628.9 451.8,631.3 456.6,632.2 461.3,633.6 466.1,636.4 470.9,643.1 475.7,646.2 480.4,647.8 485.2,649.1 490.0,648.4 494.8,646.6 499.5,646.7 504.3,645.9 509.1,641.9 513.8,641.4 518.6,637.7 523.4,633.8 528.2,629.8 532.9,626.0 537.7,618.4 542.5,615.0 547.3,613.2 552.0,612.8 556.8,613.3 561.6,615.5 566.3,614.7 571.1,612.8 575.9,612.1 580.7,610.8 585.4,610.7 590.2,610.8 595.0,611.1 599.8,610.6 604.5,614.0 609.3,616.0 614.1,617.0 618.8,616.6 623.6,616.2 628.4,614.7 633.2,614.3 637.9,613.9 642.7,613.4 647.5,614.6 652.3,616.4 657.0,618.8 661.8,621.4 666.6,624.5 671.3,625.8 676.1,624.4 680.9,623.8 685.7,620.5 690.4,620.7 695.2,621.0 700.0,623.8 704.8,626.8 709.5,627.6 714.3,625.2 719.1,621.2 723.8,618.8 728.6,616.4 733.4,612.7 738.2,611.4 742.9,613.1 747.7,616.2 752.5,620.4 757.3,620.1 762.0,621.5 766.8,620.5 771.6,618.9 776.3,620.5 781.1,623.5 785.9,627.9 790.7,629.1 795.4,628.3 800.2,629.2 805.0,629.5 809.8,628.4 814.5,626.3 819.3,626.1 824.1,628.5 828.8,630.7 833.6,633.0 838.4,636.3 843.2,636.7 847.9,636.4 852.7,637.0 857.5,641.3 862.3,646.4 867.0,651.3 871.8,653.9 876.6,658.0 881.3,660.2 886.1,662.4 890.9,663.6 895.7,660.7 900.4,657.8 905.2,655.6 910.0,655.4 914.8,655.4 919.5,654.4 924.3,651.8 929.1,650.4 933.9,648.8 938.6,646.8 943.4,642.9 948.2,640.6 952.9,637.6 957.7,635.4 962.5,635.5 967.3,635.2 972.0,633.1 976.8,634.6 981.6,635.8 986.4,637.4 991.1,640.4 995.9,643.4 1000.7,646.5 1005.4,652.0 1010.2,656.5 1015.0,661.2 1019.8,664.7 1024.5,667.1 1029.3,669.8 1034.1,670.9 1038.9,672.5 1043.6,670.5 1048.4,669.9 1053.2,668.8 1057.9,665.1 1062.7,662.9 1067.5,660.0 1072.3,656.0 1077.0,657.8 1081.8,660.0 1086.6,660.1 1091.4,660.3 1096.1,660.9 1100.9,665.4 1105.7,671.0 1110.4,679.2 1115.2,685.5 1120.0,691.8 1124.8,697.9 1129.5,701.7 1134.3,706.4 1139.1,710.2 1143.9,707.2 1148.6,703.1 1153.4,698.9 1158.2,695.4 1162.9,691.2 1167.7,686.4 1172.5,681.9 1177.3,675.1" fill="none" stroke="#fdd835" stroke-width="1.2" stroke-linejoin="round"/>
</g>
<line x1="966.3" y1="50.6" x2="1244.2" y2="189.8" stroke="#1f4287" stroke-width="3" stroke-linecap="round"/>
<line x1="980.5" y1="177.7" x2="1168.4" y2="355" stroke="#1f4287" stroke-width="3" stroke-linecap="round"/>
<path d="M1104.7,49.6 H1191.9 A6.7,6.7 0 0 1 1198.6,56.3 V75.4 A6.7,6.7 0 0 1 1191.9,82.1 H1105.6 L1078.3,98.6 L1098,73.2 V56.3 A6.7,6.7 0 0 1 1104.7,49.6 Z" fill="#fff" stroke="#9a1b1b" stroke-width="1.4" stroke-linejoin="miter"/>
<text x="1108.7" y="68.4" font-size="12" fill="#9a1b1b" textLength="79.2" lengthAdjust="spacingAndGlyphs" >Resistance line</text>
<path d="M935.1,259.5 H1006.2 L1026,233.4 L1014.6,268.2 V285.5 A7,7 0 0 1 1007.6,292.5 H935.1 A7,7 0 0 1 928.1,285.5 V266.5 A7,7 0 0 1 935.1,259.5 Z" fill="#fff" stroke="#9a1b1b" stroke-width="1.4" stroke-linejoin="miter"/>
<text x="939.7" y="278.6" font-size="12" fill="#9a1b1b" textLength="64.5" lengthAdjust="spacingAndGlyphs" >Support line</text>
<rect x="9.75" y="26.75" width="1339.5" height="746.5" fill="none" stroke="#ededed" stroke-width="1.5"/>
<line x1="1283.5" y1="27" x2="1283.5" y2="773" stroke="#e0e1e5"/>
<line x1="10" y1="564.5" x2="1349" y2="564.5" stroke="#e0e1e5"/>
<line x1="10" y1="745.5" x2="1349" y2="745.5" stroke="#e0e1e5"/>
<text x="10.3" y="19" font-size="13" fill="#131722" textLength="361" lengthAdjust="spacingAndGlyphs" >ranadagger created with TradingView.com, Oct 31, 2025 14:23 UTC</text>
<text x="18.3" y="45.6" font-size="12" fill="#131722" textLength="205.7" lengthAdjust="spacingAndGlyphs" >Bitcoin Cash / TetherUS · 1D · Binance</text>
<text x="231.3" y="45.6" font-size="12" fill="#131722" textLength="8.6" lengthAdjust="spacingAndGlyphs" >O</text>
<text x="240.6" y="45.6" font-size="12" fill="#26a69a" textLength="28.4" lengthAdjust="spacingAndGlyphs" >541.2</text>
<text x="277.3" y="45.6" font-size="12" fill="#131722" textLength="8" lengthAdjust="spacingAndGlyphs" >H</text>
<text x="285.5" y="45.6" font-size="12" fill="#26a69a" textLength="27.6" lengthAdjust="spacingAndGlyphs" >568.1</text>
<text x="322" y="45.6" font-size="12" fill="#131722" textLength="5.5" lengthAdjust="spacingAndGlyphs" >L</text>
<text x="327.5" y="45.6" font-size="12" fill="#26a69a" textLength="28.9" lengthAdjust="spacingAndGlyphs" >532.6</text>
<text x="364.2" y="45.6" font-size="12" fill="#131722" textLength="7.8" lengthAdjust="spacingAndGlyphs" >C</text>
<text x="372" y="45.6" font-size="12" fill="#26a69a" textLength="28.9" lengthAdjust="spacingAndGlyphs" >552.3</text>
<text x="408.5" y="45.6" font-size="12" fill="#26a69a" textLength="77.7" lengthAdjust="spacingAndGlyphs" >+11.1 (+2.05%)</text>
<text x="18.3" y="62.7" font-size="12" fill="#131722" textLength="81.8" lengthAdjust="spacingAndGlyphs" >EMA (20, close)</text>
<text x="107.5" y="62.7" font-size="12" fill="#2962ff" textLength="29.5" lengthAdjust="spacingAndGlyphs" >530.6</text>
<text x="18.3" y="79.7" font-size="12" fill="#131722" textLength="81.1" lengthAdjust="spacingAndGlyphs" >SMA (50, close)</text>
<text x="107.5" y="79.7" font-size="12" fill="#f23645" textLength="29.5" lengthAdjust="spacingAndGlyphs" >553.0</text>
<text x="18.5" y="583.7" font-size="12" fill="#131722" textLength="74.7" lengthAdjust="spacingAndGlyphs" >RSI (14, close)</text>
<text x="101.5" y="583.7" font-size="12" fill="#7e57c2" textLength="29.3" lengthAdjust="spacingAndGlyphs" >55.77</text>
<text x="138.3" y="583.7" font-size="12" fill="#fdd835" textLength="29.7" lengthAdjust="spacingAndGlyphs" >45.28</text>
<text x="1292" y="90.1" font-size="12" fill="#131722" textLength="29.3" lengthAdjust="spacingAndGlyphs" >625.0</text>
<text x="1292" y="120.1" font-size="12" fill="#131722" textLength="29.3" lengthAdjust="spacingAndGlyphs" >600.0</text>
<text x="1292" y="150.1" font-size="12" fill="#131722" textLength="29.3" lengthAdjust="spacingAndGlyphs" >575.0</text>
<text x="1292" y="240.1" font-size="12" fill="#131722" textLength="29.3" lengthAdjust="spacingAndGlyphs" >500.0</text>
<text x="1292" y="270.1" font-size="12" fill="#131722" textLength="29.3" lengthAdjust="spacingAndGlyphs" >475.0</text>
<text x="1292" y="300.1" font-size="12" fill="#131722" textLength="29.3" lengthAdjust="spacingAndGlyphs" >450.0</text>
<text x="1292" y="330.1" font-size="12" fill="#131722" textLength="29.3" lengthAdjust="spacingAndGlyphs" >425.0</text>
<text x="1292" y="360.1" font-size="12" fill="#131722" textLength="29.3" lengthAdjust="spacingAndGlyphs" >400.0</text>
<text x="1292" y="390.1" font-size="12" fill="#131722" textLength="29.3" lengthAdjust="spacingAndGlyphs" >375.0</text>
<text x="1292" y="420.1" font-size="12" fill="#131722" textLength="29.3" lengthAdjust="spacingAndGlyphs" >350.0</text>
<text x="1292" y="450.1" font-size="12" fill="#131722" textLength="29.3" lengthAdjust="spacingAndGlyphs" >325.0</text>
<text x="1292" y="480.1" font-size="12" fill="#131722" textLength="29.3" lengthAdjust="spacingAndGlyphs" >300.0</text>
<text x="1292" y="510.1" font-size="12" fill="#131722" textLength="29.3" lengthAdjust="spacingAndGlyphs" >275.0</text>
<text x="1292" y="540.1" font-size="12" fill="#131722" textLength="29.3" lengthAdjust="spacingAndGlyphs" >250.0</text>
<text x="1292.3" y="584" font-size="12" fill="#131722" textLength="29.5" lengthAdjust="spacingAndGlyphs" >70.00</text>
<text x="1292.3" y="623" font-size="12" fill="#131722" textLength="29.5" lengthAdjust="spacingAndGlyphs" >60.00</text>
<text x="1292.3" y="662" font-size="12" fill="#131722" textLength="29.5" lengthAdjust="spacingAndGlyphs" >50.00</text>
<text x="1292.3" y="701" font-size="12" fill="#131722" textLength="29.5" lengthAdjust="spacingAndGlyphs" >40.00</text>
<text x="1292.3" y="740" font-size="12" fill="#131722" textLength="29.5" lengthAdjust="spacingAndGlyphs" >30.00</text>
<rect x="1287.5" y="31.5" width="57" height="25.5" rx="4" fill="#fff" stroke="#f0f1f3" stroke-width="1"/>
<text x="1296" y="48.8" font-size="12" fill="#131722" textLength="28" lengthAdjust="spacingAndGlyphs" >USDT</text>
<clipPath id="tclip"><rect x="10" y="746" width="1273" height="27"/></clipPath>
<g clip-path="url(#tclip)">
<text x="11.5" y="763.3" font-size="12" fill="#131722" text-anchor="middle" font-weight="bold" >Mar</text>
<text x="161.4" y="763.3" font-size="12" fill="#131722" text-anchor="middle" font-weight="bold" >Apr</text>
<text x="304.3" y="763.3" font-size="12" fill="#131722" text-anchor="middle" font-weight="bold" >May</text>
<text x="452" y="763.3" font-size="12" fill="#131722" text-anchor="middle" font-weight="bold" >Jun</text>
<text x="595.5" y="763.3" font-size="12" fill="#131722" text-anchor="middle" font-weight="bold" >Jul</text>
<text x="743.2" y="763.3" font-size="12" fill="#131722" text-anchor="middle" font-weight="bold" >Aug</text>
<text x="891.2" y="763.3" font-size="12" fill="#131722" text-anchor="middle" font-weight="bold" >Sep</text>
<text x="1034.4" y="763.3" font-size="12" fill="#131722" text-anchor="middle" font-weight="bold" >Oct</text>
<text x="1182.4" y="763.3" font-size="12" fill="#131722" text-anchor="middle" font-weight="bold" >Nov</text>
</g>
<rect x="1233" y="147" width="94" height="17" rx="2" fill="#f23645"/>
<rect x="1283" y="147" width="1" height="17" fill="#f23645" fill-opacity="0.35"/>
<text x="1239" y="160" font-size="12" fill="#ffffff" textLength="40" lengthAdjust="spacingAndGlyphs" stroke="#ffffff" stroke-width="0.45">SMA:MA</text>
<text x="1292" y="160" font-size="12" fill="#ffffff" textLength="30" lengthAdjust="spacingAndGlyphs" stroke="#ffffff" stroke-width="0.45">553.0</text>
<rect x="1225" y="164.2" width="58" height="16.3" rx="2" fill="#26a69a"/>
<rect x="1284" y="164.2" width="60" height="44.4" rx="2" fill="#26a69a"/>
<rect x="1280" y="164.2" width="6" height="16.3" fill="#26a69a"/>
<rect x="1283" y="164.2" width="1" height="16.3" fill="#26a69a" fill-opacity="0.35"/>
<text x="1230" y="177" font-size="12" fill="#ffffff" textLength="48.5" lengthAdjust="spacingAndGlyphs" stroke="#ffffff" stroke-width="0.45">BCHUSDT</text>
<text x="1292" y="177" font-size="12" fill="#ffffff" textLength="29.5" lengthAdjust="spacingAndGlyphs" stroke="#ffffff" stroke-width="0.45">552.3</text>
<text x="1292" y="191.5" font-size="12" fill="#ffffff" textLength="43" lengthAdjust="spacingAndGlyphs" stroke="#ffffff" stroke-width="0.45">+74.83%</text>
<text x="1292" y="205.5" font-size="12" fill="#d4efec" textLength="44" lengthAdjust="spacingAndGlyphs" stroke="#d4efec" stroke-width="0.45">09:36:41</text>
<rect x="1252" y="209.2" width="75" height="16.5" rx="2" fill="#2962ff"/>
<rect x="1283" y="209.2" width="1" height="16.5" fill="#2962ff" fill-opacity="0.35"/>
<text x="1257" y="222" font-size="12" fill="#ffffff" textLength="21" lengthAdjust="spacingAndGlyphs" stroke="#ffffff" stroke-width="0.45">EMA</text>
<text x="1292" y="222" font-size="12" fill="#ffffff" textLength="29.5" lengthAdjust="spacingAndGlyphs" stroke="#ffffff" stroke-width="0.45">530.6</text>
<rect x="1258" y="626" width="69" height="16.799999999999955" rx="2" fill="#7e57c2"/>
<rect x="1283" y="626" width="1" height="16.799999999999955" fill="#7e57c2" fill-opacity="0.35"/>
<text x="1263" y="639" font-size="12" fill="#ffffff" textLength="16" lengthAdjust="spacingAndGlyphs" stroke="#ffffff" stroke-width="0.45">RSI</text>
<text x="1292" y="639" font-size="12" fill="#ffffff" textLength="29.5" lengthAdjust="spacingAndGlyphs" stroke="#ffffff" stroke-width="0.45">55.77</text>
<rect x="1204" y="667.2" width="123" height="16.799999999999955" rx="2" fill="#fdd835"/>
<rect x="1283" y="667.2" width="1" height="16.799999999999955" fill="#fdd835" fill-opacity="0.35"/>
<text x="1209" y="680" font-size="12" fill="#131722" textLength="70" lengthAdjust="spacingAndGlyphs" stroke="#131722" stroke-width="0.2">RSI-based MA</text>
<text x="1292" y="680" font-size="12" fill="#131722" textLength="29.5" lengthAdjust="spacingAndGlyphs" stroke="#131722" stroke-width="0.2">45.28</text>
<circle cx="1177.5" cy="551.3" r="11.5" fill="#fff"/>
<path d="M1180.2,541.9 A9.7,9.7 0 1,0 1187.1,549.6" fill="none" stroke="#9c27b0" stroke-width="1.5"/>
<path d="M1179.6,546.4 L1173.8,551.4 L1181.2,551.4 L1174.6,556.6" fill="none" stroke="#9c27b0" stroke-width="1.6" stroke-linejoin="miter"/>
<circle cx="1184.5" cy="544.5" r="2.5" fill="#f23645"/>
<path d="M12,795 H23.5 V810 H18 V801 H12 Z" fill="#131722"/>
<circle cx="29.6" cy="798" r="2.8" fill="#131722"/>
<path d="M34.2,795 H42 L35.6,810 H28.9 Z" fill="#131722"/>
<text x="49.3" y="810" font-size="20.5" fill="#131722" textLength="121" lengthAdjust="spacingAndGlyphs" font-weight="bold" >TradingView</text>
</svg>
</body></html>
